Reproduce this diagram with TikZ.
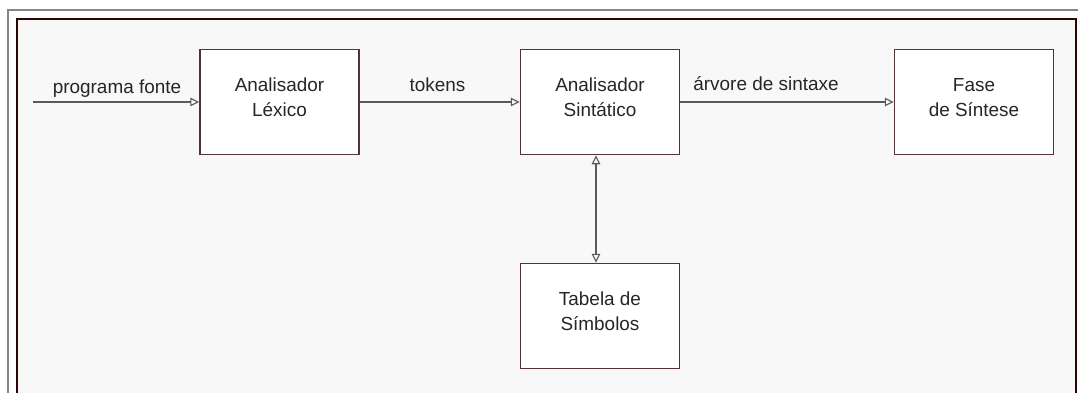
\documentclass[tikz,border=0pt]{standalone}
\usepackage{fontspec}
\setmainfont{Liberation Sans}
\usetikzlibrary{arrows.meta}
\definecolor{bgfill}{HTML}{F8F8F8}
\definecolor{frame}{HTML}{2E0505}
\definecolor{boxline}{HTML}{553333}
\definecolor{arr}{HTML}{5A5A5A}
\begin{document}
\begin{tikzpicture}[x=1bp,y=-1bp,
  blk/.style={draw=boxline,line width=1.5bp,fill=white,minimum width=159bp,minimum height=105bp,align=center,inner sep=0pt},
  btxt/.style={align=center,inner sep=0pt,font=\fontsize{19}{25}\selectfont,text=black!85},
  lbl/.style={font=\fontsize{19}{23}\selectfont,text=black!85,inner sep=0pt},
  conn/.style={draw=arr,line width=1.1bp,-{Triangle[open,length=9bp,width=8.5bp]}},
  conn2/.style={draw=arr,line width=1.1bp,{Triangle[open,length=9bp,width=8.5bp]}-{Triangle[open,length=9bp,width=8.5bp]}}]
\useasboundingbox (0,0) rectangle (1078,392);
\clip (0,0) rectangle (1078,392);
\fill[white] (0,0) rectangle (1078,392);
\draw[draw=gray!95,line width=2bp] (8,420) -- (8,9.5) -- (1100,9.5);
\draw[draw=frame,fill=bgfill,line width=2bp] (17,420) -- (17,19) -- (1076,19) -- (1076,420);
\node[blk] (lex) at (279.5,102) {};
\node[blk] (sin) at (600,102) {};
\node[blk] (fase) at (974,102) {};
\node[blk] (tab) at (600,316) {};
\node[btxt] (lext) at (279.5,97.5) {Analisador\\Léxico};
\node[btxt] (sint) at (600,97.5) {Analisador\\Sintático};
\node[btxt] (faset) at (974,97.5) {Fase\\de Síntese};
\node[btxt] (tabt) at (600,311) {Tabela de\\Símbolos};
\coordinate (in) at (33,102);
\draw[conn] (in) -- (lex.west);
\draw[conn] (lex.east) -- (sin.west);
\draw[conn] (sin.east) -- (fase.west);
\draw[conn2] ([xshift=-4bp]sin.south) -- ([xshift=-4bp]tab.north);
\node[lbl] (l1) at (117,89) {programa fonte};
\node[lbl] (l2) at (437.5,85) {tokens};
\node[lbl] (l3) at (766,84) {árvore de sintaxe};
\end{tikzpicture}
\end{document}
